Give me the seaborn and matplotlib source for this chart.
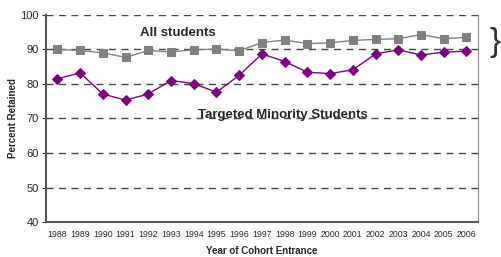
import numpy as np
import pandas as pd
import matplotlib
matplotlib.use("Agg")
import matplotlib.pyplot as plt
import seaborn as sns

# data
years = ['1988', '1989', '1990', '1991', '1992', '1993', '1994', '1995', '1996', '1997',
         '1998', '1999', '2000', '2001', '2002', '2003', '2004', '2005', '2006']
all_students = [90.0, 89.7, 89.0, 87.7, 89.7, 89.3, 89.9, 90.1, 89.6, 92.0,
                92.7, 91.7, 91.9, 92.6, 92.9, 93.1, 94.3, 93.1, 93.5]
minority = [81.5, 83.2, 77.1, 75.3, 77.1, 81.0, 80.1, 77.6, 82.5, 88.7,
            86.5, 83.4, 83.0, 84.1, 88.7, 89.9, 88.4, 89.2, 89.5]
y_ticks = [40, 50, 60, 70, 80, 90, 100]

df = pd.DataFrame({'pos': np.arange(len(years)), 'year': years,
                   'all': all_students, 'min': minority})

sns.set_style("white")
plt.rcParams['font.family'] = ['Liberation Sans', 'DejaVu Sans']

fig = plt.figure(figsize=(5.01, 2.57), dpi=100)
ax = fig.add_axes([0.0918, 0.136, 0.862, 0.806])

# dashed grid lines
for v in y_ticks[1:]:
    ax.axhline(v, color='#444444', lw=1.0, ls=(0, (5, 4)), zorder=0)

sns.lineplot(data=df, x='pos', y='all', ax=ax, color='#808080', lw=1.0,
             marker='s', markersize=6, markeredgecolor='#808080')
sns.lineplot(data=df, x='pos', y='min', ax=ax, color='#800080', lw=1.0,
             marker='D', markersize=5, markeredgecolor='#800080')

ax.set_xlim(-0.5, len(years) - 0.5)
ax.set_ylim(40, 100)
ax.set_yticks(y_ticks)
ax.set_yticklabels([str(v) for v in y_ticks], fontsize=8)
ax.set_xticks(df['pos'])
ax.set_xticklabels(years, fontsize=6.3)
ax.set_xticks(np.arange(len(years) + 1) - 0.5, minor=True)
ax.tick_params(axis='x', which='major', length=0, pad=6)
ax.tick_params(axis='x', which='minor', length=3, width=0.8, color='#333333', direction='out')
ax.tick_params(axis='y', length=3, width=0.8, color='#333333', direction='out', pad=2)
ax.tick_params(bottom=True, left=True)

ax.set_xlabel('Year of Cohort Entrance', fontsize=7, fontweight='bold', labelpad=5)
ax.set_ylabel('Percent Retained', fontsize=7, fontweight='bold', labelpad=2)

for s in ['left', 'bottom']:
    ax.spines[s].set_color('#555555')
    ax.spines[s].set_linewidth(1.5)
ax.spines['right'].set_color('#888888')
ax.spines['right'].set_linewidth(0.8)
ax.spines['top'].set_visible(False)

ax.text(5.3, 94.8, 'All students', fontsize=9.5, fontweight='bold', ha='center', va='center')
ax.text(9.9, 71.0, 'Targeted Minority Students', fontsize=9.5, fontweight='bold',
        ha='center', va='center')

fig.text(0.988, 0.835, '}', fontsize=24, ha='center', va='center', color='#333333',
         fontweight='normal')

plt.savefig('out.png', dpi=100)
